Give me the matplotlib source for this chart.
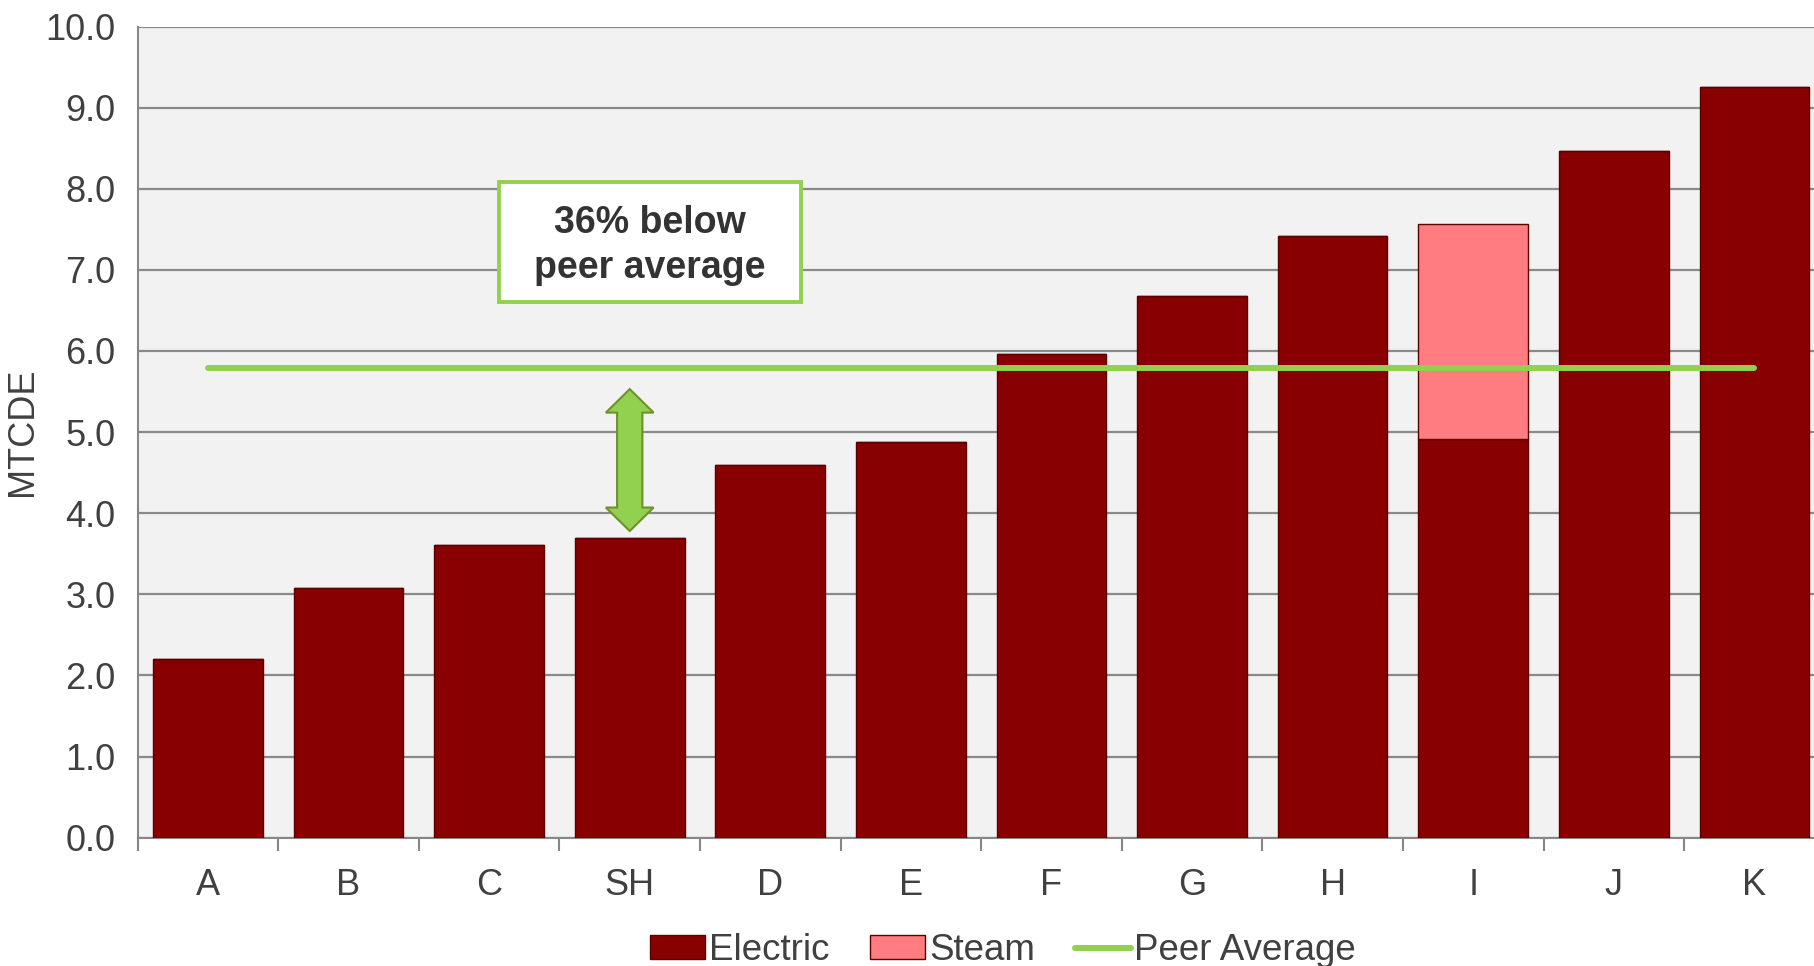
import matplotlib
matplotlib.use("Agg")
import matplotlib.pyplot as plt
import numpy as np
from matplotlib.lines import Line2D
from matplotlib.patches import Patch, Polygon, Rectangle

plt.rcParams["font.family"] = ["Liberation Sans", "DejaVu Sans"]

# data
categories = ["A", "B", "C", "SH", "D", "E", "F", "G", "H", "I", "J", "K"]
electric = [2.20, 3.08, 3.61, 3.69, 4.59, 4.88, 5.96, 6.68, 7.42, 4.91, 8.46, 9.26]
steam = [0, 0, 0, 0, 0, 0, 0, 0, 0, 2.65, 0, 0]
peer_average = 5.79
y_ticks = [0, 1, 2, 3, 4, 5, 6, 7, 8, 9, 10]
callout_text = "36% below\npeer average"

ELECTRIC = "#880000"
STEAM = "#FF7C80"
EDGE = "#5A0000"
GREEN = "#92D050"
TEXT = "#404040"

fig = plt.figure(figsize=(18.14, 9.66), dpi=100)
ax = fig.add_axes([0.0759, 0.1329, 0.930, 0.8396])
ax.set_facecolor("#F2F2F2")

x = np.arange(len(categories))
ax.bar(x, electric, width=0.78, color=ELECTRIC, edgecolor=EDGE, linewidth=1, zorder=3)
ax.bar(x, steam, width=0.78, bottom=electric, color=STEAM, edgecolor=EDGE,
       linewidth=1, zorder=3)
ax.plot([x[0], x[-1]], [peer_average, peer_average], color=GREEN, lw=4.3,
        solid_capstyle="round", zorder=4)

ax.set_xlim(-0.5, len(categories) - 0.5)
ax.set_ylim(0, 10)
ax.set_yticks(y_ticks)
ax.set_yticklabels([f"{v:.1f}" for v in y_ticks])
ax.yaxis.grid(True, color="#8A8A8A", lw=1.6, zorder=0)
ax.set_axisbelow(True)
ax.tick_params(axis="y", length=0, pad=16, labelsize=26, labelcolor=TEXT)

# category boundaries as ticks, labels on the centres
ax.set_xticks(np.arange(len(categories) + 1) - 0.5)
ax.set_xticklabels([])
ax.set_xticks(x, minor=True)
ax.set_xticklabels(categories, minor=True)
ax.tick_params(axis="x", which="major", length=9, width=1.5, color="#878787")
ax.tick_params(axis="x", which="minor", length=0, pad=22, labelsize=26,
               labelcolor=TEXT)

for side in ["top", "right"]:
    ax.spines[side].set_visible(False)
for side in ["left", "bottom"]:
    ax.spines[side].set_color("#878787")
    ax.spines[side].set_linewidth(1.5)

ax.set_ylabel("MTCDE", fontsize=26, color=TEXT, labelpad=4)

# callout box
ax.add_patch(Rectangle((2.07, 6.60), 2.15, 1.48, facecolor="white",
                       edgecolor=GREEN, lw=2.8, zorder=5))
ax.text(3.145, 7.30, callout_text, ha="center", va="center", fontsize=27,
        fontweight="bold", color="#333333", linespacing=1.3, zorder=6)

# double headed arrow between SH and the peer average
sh = categories.index("SH")
top = peer_average - 0.26
bottom = electric[sh] + 0.09
sw, hw, hl = 0.09, 0.17, 0.29
cx = x[sh]
arrow = [
    (cx, top), (cx + hw, top - hl), (cx + sw, top - hl),
    (cx + sw, bottom + hl), (cx + hw, bottom + hl), (cx, bottom),
    (cx - hw, bottom + hl), (cx - sw, bottom + hl), (cx - sw, top - hl),
    (cx - hw, top - hl),
]
ax.add_patch(Polygon(arrow, closed=True, facecolor=GREEN, edgecolor="#71902A",
                     lw=1.5, zorder=5))

handles = [
    Patch(facecolor=ELECTRIC, edgecolor=EDGE, label="Electric"),
    Patch(facecolor=STEAM, edgecolor=EDGE, label="Steam"),
    Line2D([0], [0], color=GREEN, lw=4.3, solid_capstyle="round",
           label="Peer Average"),
]
fig.legend(handles=handles, loc="center", bbox_to_anchor=(0.553, 0.016),
           ncol=3, frameon=False, fontsize=26.5, handlelength=1.5,
           handleheight=0.6, handletextpad=0.1, columnspacing=1.1,
           labelcolor=TEXT)

fig.savefig("out.png", dpi=100)
